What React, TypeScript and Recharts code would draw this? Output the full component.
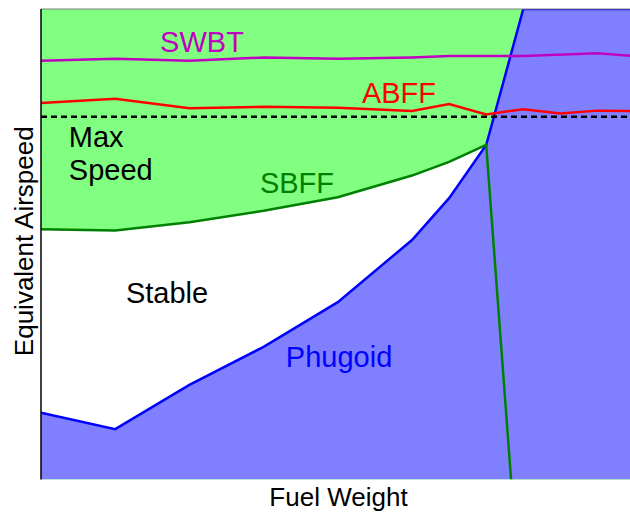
import { Area, CartesianGrid, ComposedChart, Line, ReferenceDot, ReferenceLine, XAxis, YAxis } from 'recharts';

// fuel weight steps (arbitrary units) and airspeed boundaries (0-100 of the plot height)
const PHUGOID_X = [0, 2, 4, 6, 8, 10, 11, 12, 13, 16];
const PHUGOID_Y = [14.2, 10.7, 20.1, 28.2, 37.7, 50.9, 59.8, 71.1, 100, 100];

const SBFF_X = [0, 2, 4, 6, 8, 10, 11, 12, 12.67];
const SBFF_Y = [53.2, 52.9, 54.7, 57.1, 60.0, 64.6, 67.5, 71.1, 0];

const SWBT_X = [0, 2, 4, 6, 8, 10, 11, 13, 15, 16];
const SWBT_Y = [89.0, 89.4, 89.0, 89.7, 89.4, 89.7, 90.0, 90.0, 90.6, 90.0];

const ABFF_X = [0, 2, 4, 6, 8, 10, 11, 12, 13, 14, 15, 16];
const ABFF_Y = [80.0, 80.9, 78.9, 79.2, 79.0, 78.3, 79.8, 77.6, 78.7, 77.8, 78.4, 78.3];

const MAX_SPEED = 77.1;

const zip = (xs: number[], ys: number[]) => xs.map((x, i) => ({ x, y: ys[i] }));

const phugoid = zip(PHUGOID_X, PHUGOID_Y);
const sbff = zip(SBFF_X, SBFF_Y);
const swbt = zip(SWBT_X, SWBT_Y);
const abff = zip(ABFF_X, ABFF_Y);

const FONT = '"Liberation Sans", Arial, sans-serif';

// region / curve names, placed in data coordinates (text start, baseline)
const NOTES = [
  { text: 'SWBT', x: 3.21, y: 90.9, color: '#c000c0' },
  { text: 'ABFF', x: 8.65, y: 80.1, color: '#ff0000' },
  { text: 'Max', x: 0.75, y: 70.7, color: '#000000' },
  { text: 'Speed', x: 0.75, y: 63.7, color: '#000000' },
  { text: 'SBFF', x: 5.9, y: 60.9, color: '#008000' },
  { text: 'Stable', x: 2.29, y: 37.5, color: '#000000' },
  { text: 'Phugoid', x: 6.6, y: 23.9, color: '#0000ff' },
];

export default function App() {
  return (
    <div style={{ position: 'absolute', left: 0, top: 0 }}>
      <ComposedChart width={630} height={512} margin={{ top: 9, right: 0, bottom: 0, left: 0 }}>
        <CartesianGrid horizontal={false} vertical={false} fill="#80ff80" />
        <XAxis
          type="number"
          dataKey="x"
          domain={[0, 15.876]}
          allowDataOverflow
          tick={false}
          tickLine={false}
          axisLine={false}
          height={32.5}
          label={{
            content: ({ viewBox }: any) => (
              <text
                x={viewBox.x + viewBox.width / 2 + 3}
                y={viewBox.y + 26.5}
                textAnchor="middle"
                fontFamily={FONT}
                fontSize={26}
                fill="#000"
              >
                Fuel Weight
              </text>
            ),
          }}
        />
        <YAxis
          type="number"
          domain={[0, 100]}
          allowDataOverflow
          tick={false}
          tickLine={false}
          axisLine={{ stroke: '#000', strokeWidth: 1.5 }}
          width={41}
          label={{
            content: ({ viewBox }: any) => {
              const cx = viewBox.x + 33;
              const cy = viewBox.y + viewBox.height / 2 - 3;
              return (
                <text
                  x={cx}
                  y={cy}
                  transform={`rotate(-90, ${cx}, ${cy})`}
                  textAnchor="middle"
                  fontFamily={FONT}
                  fontSize={26}
                  fill="#000"
                >
                  Equivalent Airspeed
                </text>
              );
            },
          }}
        />
        <Area data={sbff} dataKey="y" type="linear" fill="#ffffff" fillOpacity={1} stroke="none" dot={false} activeDot={false} isAnimationActive={false} />
        <Area data={phugoid} dataKey="y" type="linear" fill="#8080ff" fillOpacity={1} stroke="#0000ff" strokeWidth={2.5} dot={false} activeDot={false} isAnimationActive={false} />
        <Line data={sbff} dataKey="y" type="linear" stroke="#008000" strokeWidth={2.5} dot={false} activeDot={false} isAnimationActive={false} />
        <Line data={swbt} dataKey="y" type="linear" stroke="#c000c0" strokeWidth={2.5} dot={false} activeDot={false} isAnimationActive={false} />
        <Line data={abff} dataKey="y" type="linear" stroke="#ff0000" strokeWidth={2.5} dot={false} activeDot={false} isAnimationActive={false} />
        <ReferenceLine y={MAX_SPEED} stroke="#000" strokeWidth={2.5} strokeDasharray="6 4" />
        <ReferenceLine y={100} stroke="#808080" strokeWidth={1} />
        {NOTES.map((n) => (
          <ReferenceDot
            key={n.text}
            x={n.x}
            y={n.y}
            r={0}
            shape={(p: any) => (
              <text x={p.cx} y={p.cy} fontFamily={FONT} fontSize={29} fill={n.color}>
                {n.text}
              </text>
            )}
          />
        ))}
      </ComposedChart>
    </div>
  );
}
